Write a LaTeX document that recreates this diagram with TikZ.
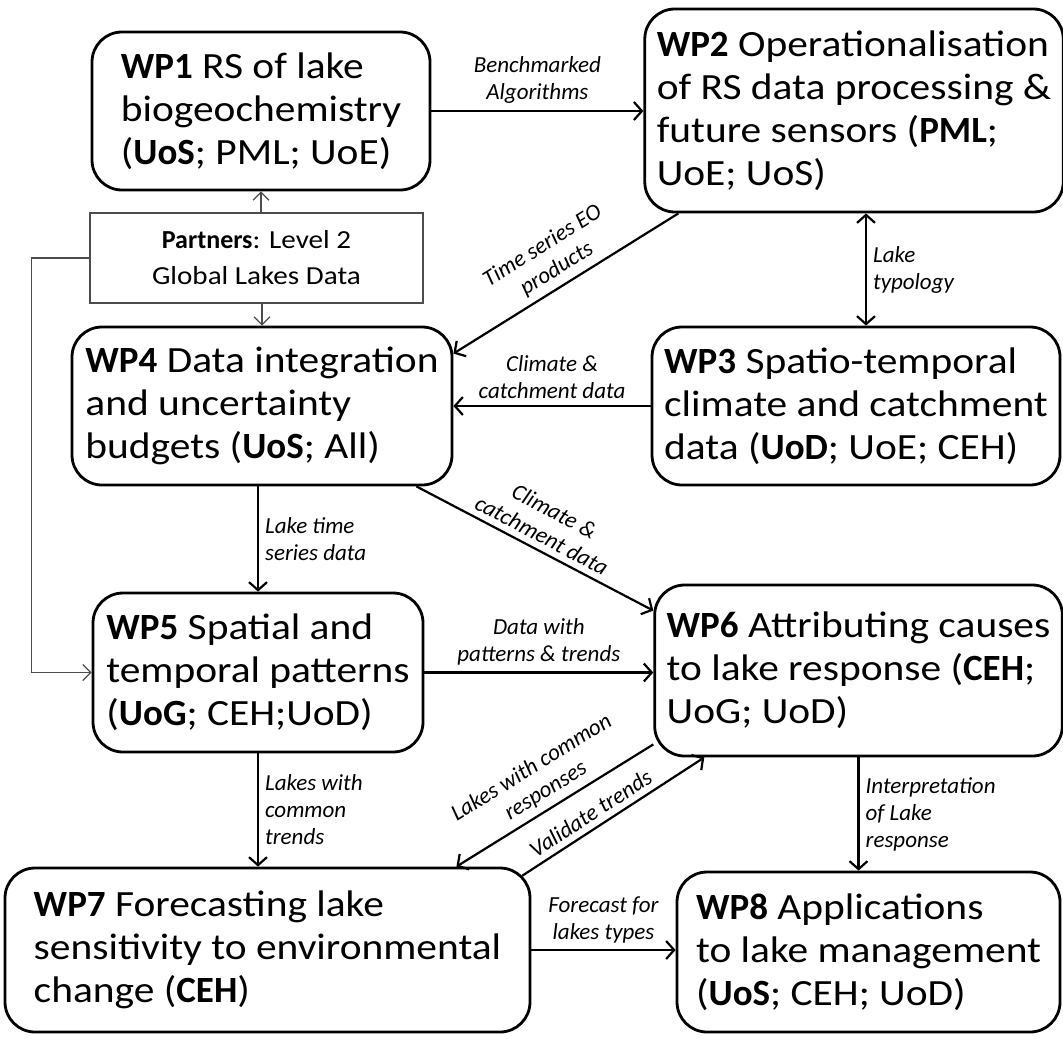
\documentclass[tikz,border=0pt]{standalone}
\usepackage{fontspec}
\setmainfont{Carlito}
\newfontfamily\boxfont{Carlito}[FakeStretch=1.12]
\usepackage{tikz}
\usetikzlibrary{calc,arrows.meta,positioning}

\newcommand{\wpb}[1]{{\normalfont\bfseries #1}}

\tikzset{
  wp/.style={draw, line width=1.4pt, rounded corners=15pt, align=left, inner xsep=6pt,
    font=\boxfont\fontsize{18.5}{21.5}\selectfont},
  partbox/.style={draw=black!70, line width=0.7pt, align=center, inner sep=4pt,
    font=\boxfont\fontsize{13}{18}\selectfont},
  flow/.style={-{Straight Barb[length=4pt,width=9pt]}, line width=1.1pt},
  biflow/.style={{Straight Barb[length=4pt,width=9pt]}-{Straight Barb[length=4pt,width=9pt]}, line width=1.1pt},
  thinflow/.style={-{Straight Barb[length=4pt,width=8pt]}, line width=0.6pt, draw=black!70},
  lbl/.style={font=\fontsize{11.5}{13.5}\selectfont\itshape, inner sep=3pt},
}

\begin{document}
\begin{tikzpicture}[x=0.5pt,y=-0.5pt]
\useasboundingbox (0,0) rectangle (1063,1038);

\node[wp, minimum width=169pt, minimum height=79pt] (wp1) at (261,111)
  {\wpb{WP1} RS of lake\\biogeochemistry\\(\wpb{UoS}; PML; UoE)};
\node[wp, minimum width=206pt, minimum height=101.5pt] (wp2) at (854,110.5)
  {\wpb{WP2} Operationalisation\\of RS data processing \&\\future sensors (\wpb{PML};\\UoE; UoS)};
\node[partbox, minimum width=166.5pt, minimum height=45pt] (partners) at (256.5,258)
  {\wpb{Partners}: Level 2\\Global Lakes Data};
\node[wp, minimum width=190pt, minimum height=79pt] (wp4) at (262,406)
  {\wpb{WP4} Data integration\\and uncertainty\\budgets (\wpb{UoS}; All)};
\node[wp, minimum width=204pt, minimum height=79pt] (wp3) at (856,406)
  {\wpb{WP3} Spatio-temporal\\climate and catchment\\data (\wpb{UoD}; UoE; CEH)};
\node[wp, minimum width=165pt, minimum height=79.5pt] (wp5) at (258,672.5)
  {\wpb{WP5} Spatial and\\temporal patterns\\(\wpb{UoG}; CEH;UoD)};
\node[wp, minimum width=201.5pt, minimum height=85.5pt] (wp6) at (858.5,670.5)
  {\wpb{WP6} Attributing causes\\to lake response (\wpb{CEH};\\UoG; UoD)};
\node[wp, minimum width=262.5pt, minimum height=82pt] (wp7) at (267.5,950)
  {\wpb{WP7} Forecasting lake\\sensitivity to environmental\\change (\wpb{CEH})};
\node[wp, minimum width=191.5pt, minimum height=80pt] (wp8) at (868.5,952)
  {\wpb{WP8} Applications\\to lake management\\(\wpb{UoS}; CEH; UoD)};

\draw[flow] (wp1.east) -- (wp1.east -| wp2.west)
  node[lbl, midway, above, align=center] {Benchmarked\\Algorithms};
\draw[thinflow] (partners.north -| wp1.south) -- (wp1.south);
\draw[thinflow] (partners.south -| wp4.north) -- (wp4.north);
\draw[thinflow] (partners.west) -- ++(-58,0) |- (wp5.west);
\draw[flow] ($(wp2.south west)+(35,0)$) -- ($(wp4.north east)+(0,28)$)
  node[lbl, midway, sloped, above, align=center] {Time series EO\\products};
\draw[flow] (wp3.west) -- (wp3.west -| wp4.east)
  node[lbl, midway, above, align=center] {Climate \&\\catchment data};
\draw[biflow] ($(wp2.south)+(12,0)$) -- ($(wp3.north)+(10,0)$)
  node[lbl, midway, right, align=left] {Lake\\typology};
\draw[flow] ($(wp4.south east)+(-37,0)$) -- ($(wp6.north west)+(0,27)$)
  node[lbl, midway, sloped, above, align=center] {Climate \&\\catchment data};
\draw[flow] (wp4.south -| wp5.north) -- (wp5.north)
  node[lbl, midway, right, align=left] {Lake time\\series data};
\draw[flow] (wp5.east) -- (wp5.east -| wp6.west)
  node[lbl, midway, above, align=center] {Data with\\patterns \& trends};
\draw[flow] ($(wp6.south west)+(0,-13)$) -- ($(wp7.north east)+(-75,0)$)
  node[lbl, midway, sloped, above, align=center] {Lakes with common\\responses};
\draw[flow] ($(wp7.north east)+(-9,9)$) -- ($(wp6.south west)+(51,0)$)
  node[lbl, pos=0.42, sloped, above] {Validate trends};
\draw[flow] (wp5.south) -- (wp5.south |- wp7.north)
  node[lbl, midway, right, align=left] {Lakes with\\common\\trends};
\draw[flow] (wp6.south) -- (wp6.south |- wp8.north)
  node[lbl, midway, right, align=left] {Interpretation\\of Lake\\response};
\draw[flow] (wp7.east) -- (wp7.east -| wp8.west)
  node[lbl, midway, above, align=center] {Forecast for\\lakes types};
\end{tikzpicture}
\end{document}
